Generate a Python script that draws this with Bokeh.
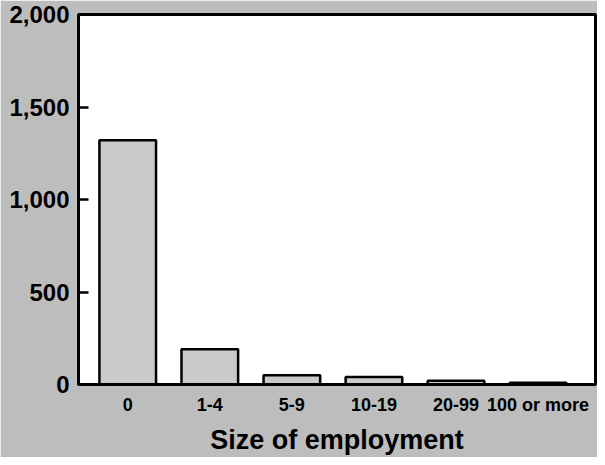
from bokeh.plotting import figure
from bokeh.models import Range1d, FixedTicker, NumeralTickFormatter
from bokeh.embed import file_html
from bokeh.resources import INLINE

categories = ["0", "1-4", "5-9", "10-19", "20-99", "100 or more"]
counts = [1320, 190, 50, 40, 20, 10]
y_ticks = [0, 500, 1000, 1500, 2000]

positions = list(range(len(categories)))

BG = "#bdbdbd"
BAR = "#cacaca"
FONT = "Liberation Sans"

p = figure(width=597, height=457, output_backend="svg", toolbar_location=None,
           x_range=Range1d(-0.6, 5.7), y_range=Range1d(0, 2000),
           min_border_left=78, min_border_right=2, min_border_top=14, min_border_bottom=62)

p.vbar(x=positions, top=counts, bottom=0, width=0.69,
       fill_color=BAR, line_color="black", line_width=2.5)

p.background_fill_color = "white"
p.border_fill_color = BG
p.outline_line_color = "black"
p.outline_line_width = 3
p.grid.visible = False

ya = p.yaxis[0]
ya.ticker = FixedTicker(ticks=y_ticks)
ya.formatter = NumeralTickFormatter(format="0,0")
ya.major_tick_in = 10
ya.major_tick_out = 0
ya.major_tick_line_width = 2.5
ya.minor_tick_line_color = None
ya.axis_line_width = 3
ya.major_label_text_font = FONT
ya.major_label_text_font_style = "bold"
ya.major_label_text_font_size = "24px"
ya.major_label_text_color = "black"
ya.major_label_standoff = 9

xa = p.xaxis[0]
xa.ticker = FixedTicker(ticks=positions)
xa.major_label_overrides = {i: c for i, c in zip(positions, categories)}
xa.major_tick_line_color = None
xa.minor_tick_line_color = None
xa.axis_line_width = 3
xa.major_label_text_font = FONT
xa.major_label_text_font_style = "bold"
xa.major_label_text_font_size = "18px"
xa.major_label_text_color = "black"
xa.major_label_standoff = 4
xa.axis_label = "Size of employment"
xa.axis_label_text_font = FONT
xa.axis_label_text_font_style = "bold"
xa.axis_label_text_font_size = "27px"
xa.axis_label_text_color = "black"
xa.axis_label_standoff = 7

open("out.html", "w").write(file_html(p, INLINE))
